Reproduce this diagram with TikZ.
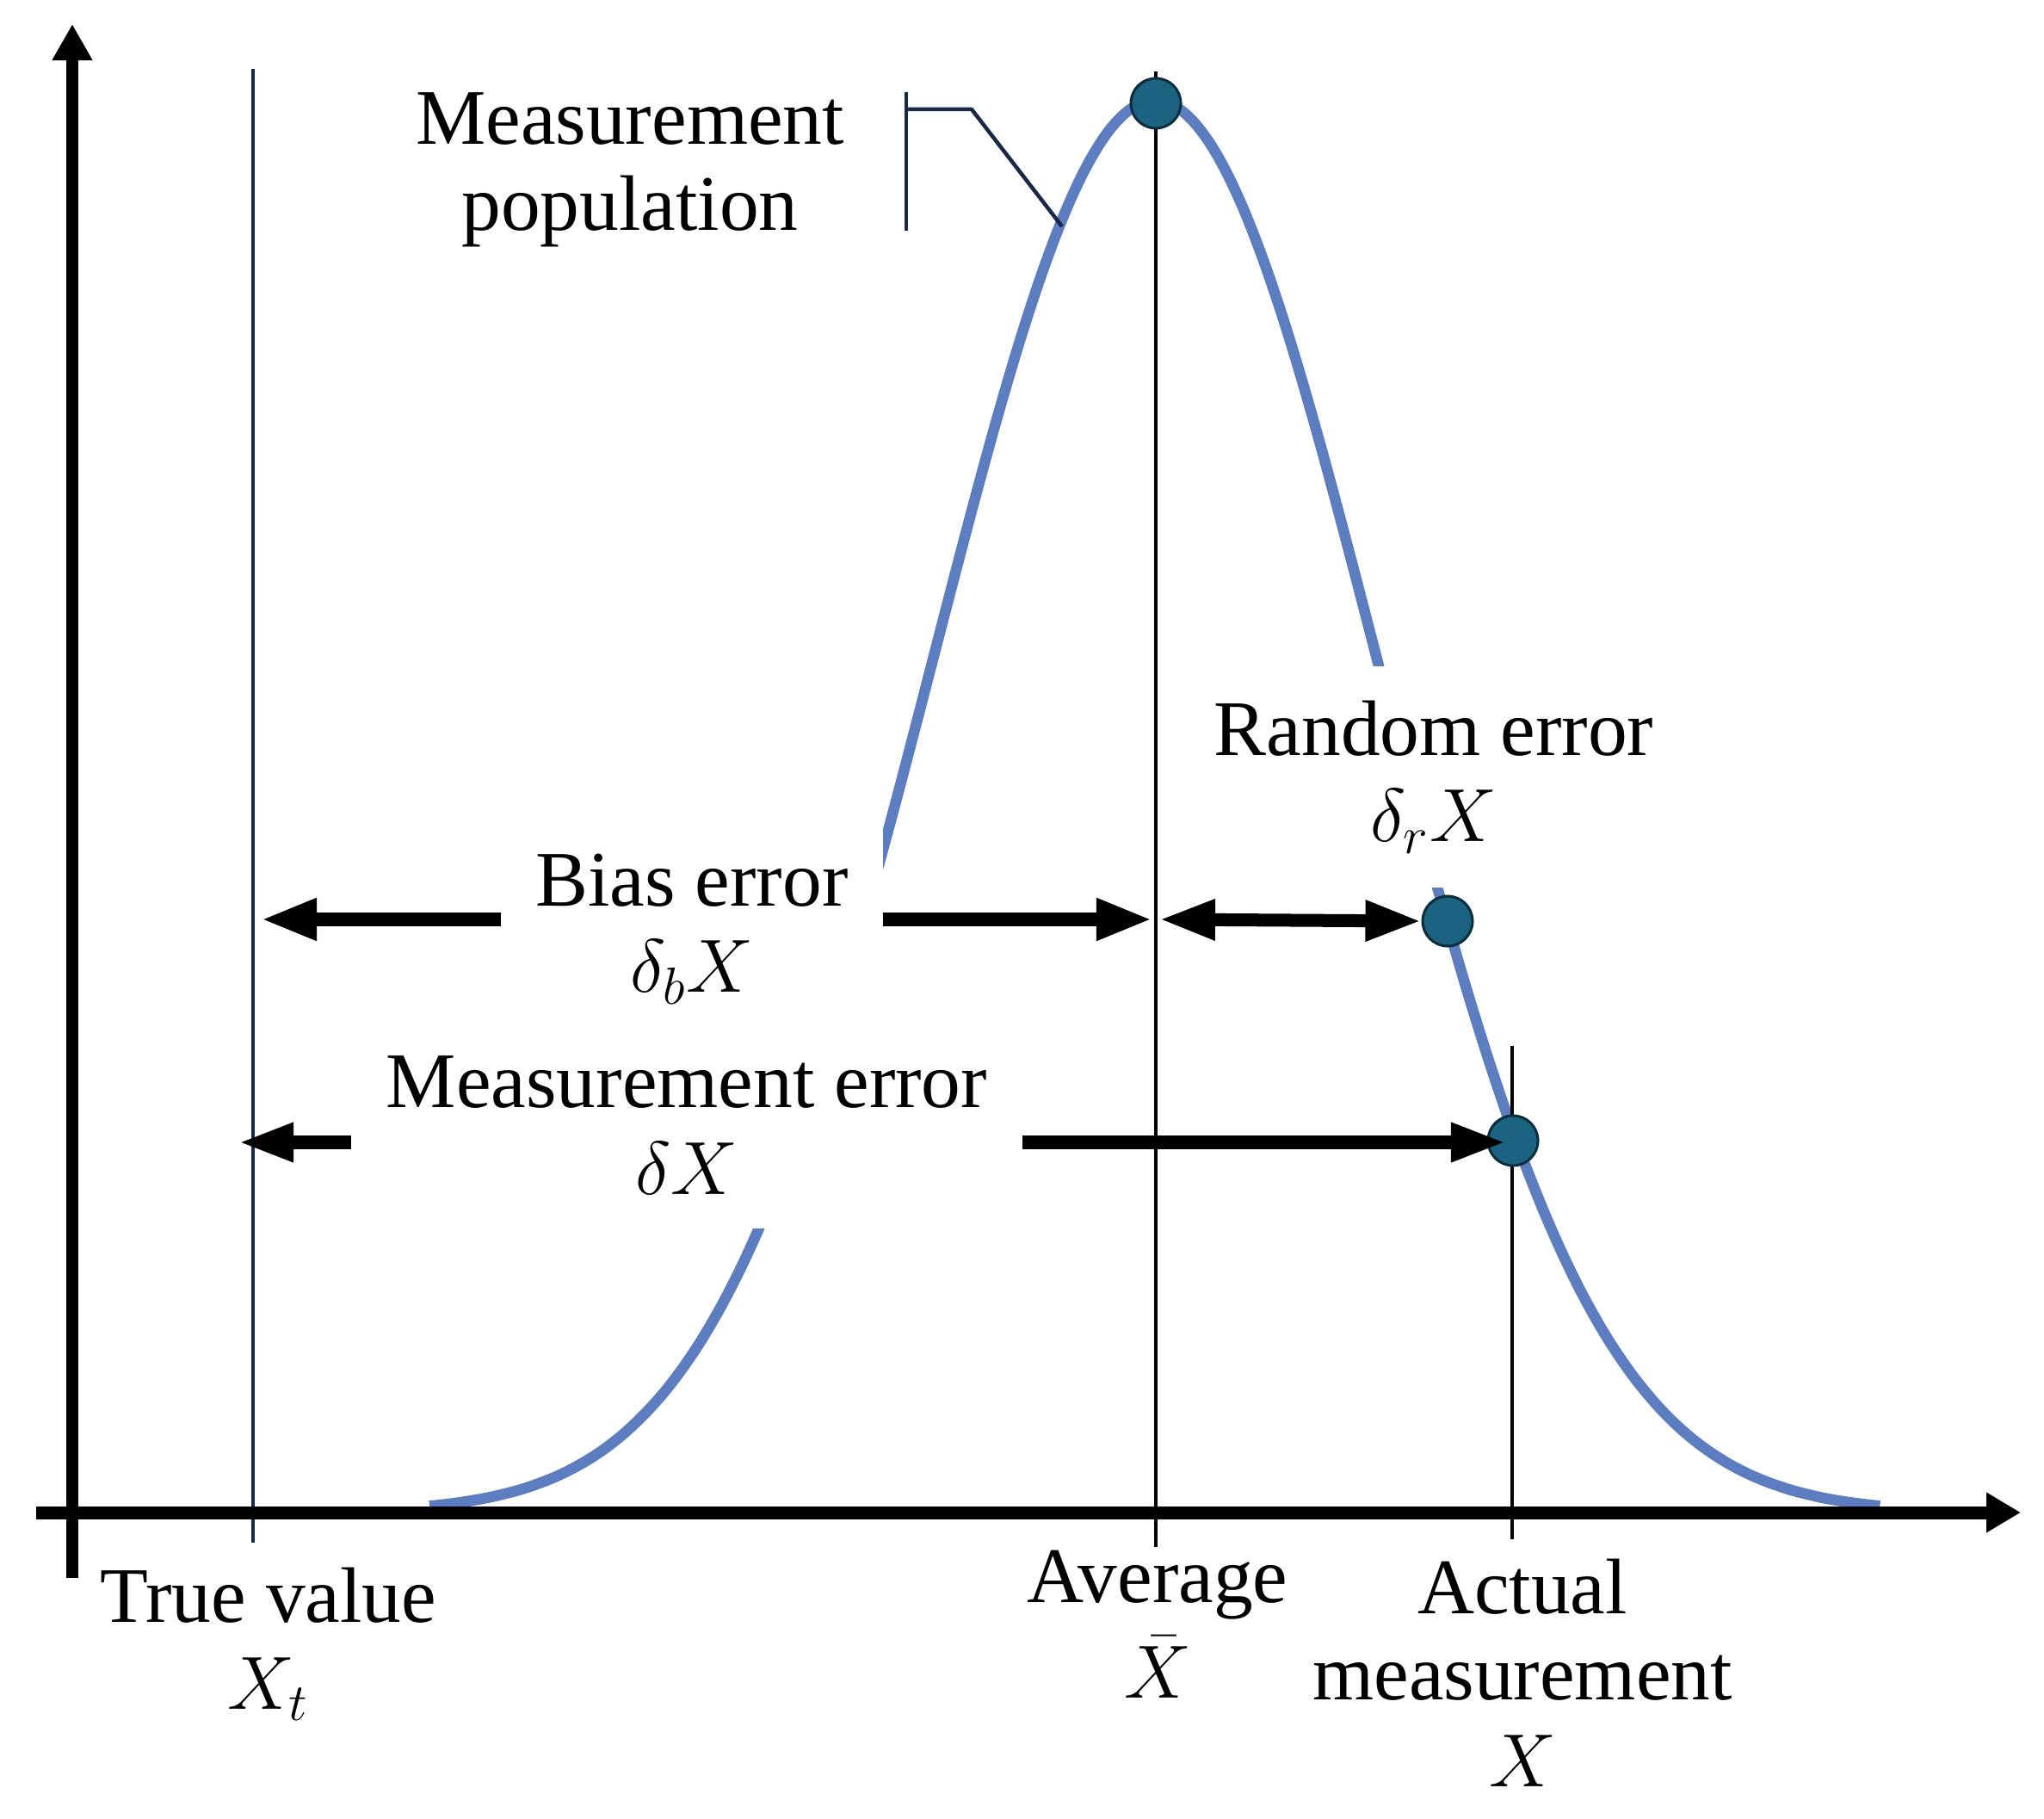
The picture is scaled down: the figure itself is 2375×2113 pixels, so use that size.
\documentclass[tikz,border=0pt]{standalone}
\usepackage{fontspec}
\setmainfont{Liberation Serif}
\usetikzlibrary{arrows.meta}
\definecolor{curveblue}{RGB}{92,126,192}
\definecolor{dotfill}{RGB}{27,99,128}
\definecolor{dotline}{RGB}{12,45,62}
\definecolor{navyline}{RGB}{25,40,70}
\begin{document}
\begin{tikzpicture}[x=0.01cm,y=-0.01cm,
  txt/.style={align=center,inner sep=0pt,font=\fontsize{26pt}{28.45pt}\selectfont},
  labelbox/.style={txt,fill=white,inner xsep=0.4cm,inner ysep=0.4cm},
  gauss/.style={draw=curveblue,line width=0.125cm},
  axisline/.style={draw=black,line width=0.145cm,-{Triangle[length=0.42cm,width=0.44cm]}},
  thinv/.style={draw=black,line width=0.045cm},
  errarrow/.style={draw=black,line width=0.16cm,-{Triangle[length=0.65cm,width=0.45cm]}},
  errdouble/.style={draw=black,line width=0.15cm,{Triangle[length=0.65cm,width=0.44cm]}-{Triangle[length=0.65cm,width=0.44cm]}},
  measdot/.style={circle,inner sep=0pt,minimum size=0.58cm,fill=dotfill,draw=dotline,line width=0.03cm}]
\useasboundingbox (0,0) rectangle (2375,2113);

% Gaussian measurement population
\draw[gauss] plot[domain=-3.28:3.28,samples=161,smooth] ({1342+257*\x},{1757-1640*exp(-0.5*\x*\x)});

% labels with white backgrounds (hide the curve); base = last line baseline
\node[labelbox,anchor=base] (bias) at (804,1153) {Bias error\\$\delta_b X$};
\node[labelbox,anchor=base] (meas) at (798,1387) {Measurement error\\$\delta X$};
\node[labelbox,anchor=base] (rand) at (1666,978) {Random error\\$\delta_r X$};

% other labels
\node[txt,anchor=base] (pop) at (732,268) {Measurement\\population};
\node[txt,anchor=base] (tvlab) at (312,1985) {True value\\$X_t$};
\node[txt,anchor=base] (avlab) at (1345,1972) {Average\\[3pt]$\bar{X}$};
\node[txt,anchor=base] (aclab) at (1769,2075) {Actual\\measurement\\$X$};

% coordinates
\coordinate (ybot) at (84,1833);
\coordinate (ytop) at (84,28);
\coordinate (xleft) at (42,1757);
\coordinate (xright) at (2348,1757);
\coordinate (tvT) at (294,80);
\coordinate (tvB) at (294,1792);
\coordinate (avT) at (1343,83);
\coordinate (avB) at (1343,1797);
\coordinate (acT) at (1757,1215);
\coordinate (acB) at (1757,1788);
\coordinate (br1) at (1053,107);
\coordinate (br2) at (1053,268);
\coordinate (br3) at (1053,127);
\coordinate (br4) at (1129,127);
\coordinate (br5) at (1234,263);
\coordinate (lvB) at (0,1068);
\coordinate (lvM) at (0,1327);
\coordinate (biasL) at (303,1068);
\coordinate (biasR) at (1339,1068);
\coordinate (randL) at (1347,1068);
\coordinate (measL) at (277,1327);
\coordinate (measR) at (1750,1327);

% vertical lines
\draw[draw=navyline,line width=0.04cm] (tvT) -- (tvB);
\draw[thinv] (avT) -- (avB);
\draw[thinv] (acT) -- (acB);

% axes
\draw[axisline] (ybot) -- (ytop);
\draw[axisline,line width=0.15cm,-{Triangle[length=0.40cm,width=0.44cm]}] (xleft) -- (xright);

% bracket for measurement population
\draw[draw=navyline,line width=0.04cm] (br1) -- (br2);
\draw[draw=navyline,line width=0.045cm,line join=round] (br3) -- (br4) -- (br5);

% dots
\node[measdot] (peak) at (1343,120) {};
\node[measdot] (rdot) at (1682,1070) {};
\node[measdot] (adot) at (1758,1325) {};

% error arrows
\draw[errarrow] (bias.west |- lvB) -- (biasL);
\draw[errarrow] (bias.east |- lvB) -- (biasR);
\draw[errdouble] (randL) -- (rdot.west);
\draw[errarrow,line width=0.15cm,-{Triangle[length=0.64cm,width=0.42cm]}] (meas.west |- lvM) -- (measL);
\draw[errarrow,line width=0.15cm,-{Triangle[length=0.64cm,width=0.42cm]}] (meas.east |- lvM) -- (measR);
\end{tikzpicture}
\end{document}
